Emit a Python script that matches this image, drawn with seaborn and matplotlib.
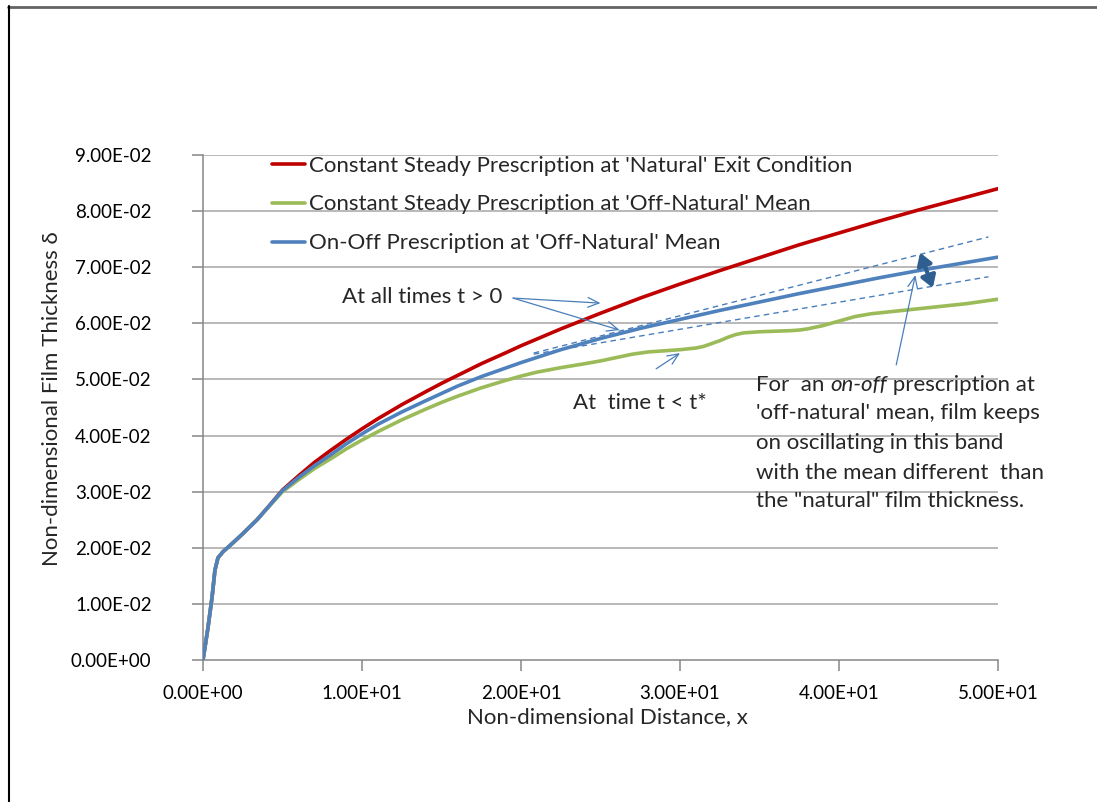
import numpy as np
import pandas as pd
import matplotlib
matplotlib.use("Agg")
import matplotlib.pyplot as plt
import seaborn as sns
from matplotlib.lines import Line2D
from matplotlib.patches import FancyArrowPatch

# ---- film thickness profiles along the plate ----
x_natural = [0, 0.3, 0.57, 0.75, 0.94, 1.26, 1.89, 2.5, 3.4, 4.2, 5, 6, 7, 8, 9, 10, 11,
             12.5, 14, 15, 16, 17.5, 19, 20, 22.5, 25, 27.5, 30, 32.5, 35, 37.5, 40,
             42.5, 45, 47.5, 50]
delta_natural = [0, 0.0055, 0.0112, 0.0160, 0.0182, 0.0193, 0.0209, 0.0225, 0.0250,
                 0.0276, 0.0303, 0.0328, 0.0352, 0.0373, 0.0393, 0.0412, 0.0430,
                 0.0455, 0.0478, 0.0493, 0.0507, 0.0528, 0.0547, 0.0560, 0.0590,
                 0.0618, 0.0645, 0.0670, 0.0694, 0.0717, 0.0740, 0.0761, 0.0782,
                 0.0802, 0.0821, 0.0840]

x_offnat = [0, 0.3, 0.57, 0.75, 0.94, 1.26, 1.89, 2.5, 3.4, 4.2, 5, 6, 7, 8, 9, 10, 11,
            12.5, 14, 15, 16, 17.5, 19, 20, 21, 22.5, 24, 25, 26, 27, 28, 29, 30, 31,
            31.5, 32, 32.5, 33, 33.5, 34, 35, 36, 37, 37.5, 38, 38.5, 39, 39.5, 40,
            40.5, 41, 42, 43, 44, 45, 46, 47, 48, 49, 50]
delta_offnat = [0, 0.0055, 0.0112, 0.0160, 0.0182, 0.0193, 0.0209, 0.0225, 0.0250,
                0.0275, 0.0300, 0.0321, 0.0341, 0.0358, 0.0376, 0.0392, 0.0407,
                0.0428, 0.0447, 0.0459, 0.0470, 0.0485, 0.0498, 0.0506, 0.0513,
                0.0521, 0.0528, 0.0533, 0.0539, 0.0545, 0.0549, 0.0551, 0.0553,
                0.0556, 0.0559, 0.0564, 0.0569, 0.0575, 0.0580, 0.0583, 0.0585,
                0.0586, 0.0587, 0.0588, 0.0590, 0.0593, 0.0596, 0.0600, 0.0604,
                0.0608, 0.0612, 0.0617, 0.0620, 0.0623, 0.0626, 0.0629, 0.0632,
                0.0635, 0.0639, 0.0643]

x_onoff = [0, 0.3, 0.57, 0.75, 0.94, 1.26, 1.89, 2.5, 3.4, 4.2, 5, 6, 7, 8, 9, 10, 11,
           12.5, 14, 15, 16, 17.5, 19, 20, 22.5, 25, 27.5, 30, 32.5, 35, 37.5, 40,
           42.5, 45, 47.5, 50]
delta_onoff = [0, 0.0055, 0.0112, 0.0160, 0.0182, 0.0193, 0.0209, 0.0225, 0.0250,
               0.0276, 0.0302, 0.0325, 0.0346, 0.0365, 0.0385, 0.0403, 0.0420,
               0.0442, 0.0462, 0.0475, 0.0488, 0.0505, 0.0520, 0.0530, 0.0553,
               0.0573, 0.0591, 0.0607, 0.0623, 0.0638, 0.0653, 0.0667, 0.0681,
               0.0694, 0.0706, 0.0718]

labels = ["Constant Steady Prescription at 'Natural' Exit Condition",
          "Constant Steady Prescription at 'Off-Natural' Mean",
          "On-Off Prescription at 'Off-Natural' Mean"]
colors = ["#C00000", "#9BBB59", "#4F81BD"]

# oscillation band of the on-off film (upper / lower envelopes)
band_x = [20.8, 49.4]
band_upper = [0.0547, 0.0754]
band_lower = [0.0545, 0.0683]

x_ticks = [0, 10, 20, 30, 40, 50]
y_ticks = [0, 0.01, 0.02, 0.03, 0.04, 0.05, 0.06, 0.07, 0.08, 0.09]

df = pd.concat([
    pd.DataFrame({"x": x_natural, "delta": delta_natural, "series": labels[0]}),
    pd.DataFrame({"x": x_offnat, "delta": delta_offnat, "series": labels[1]}),
    pd.DataFrame({"x": x_onoff, "delta": delta_onoff, "series": labels[2]}),
], ignore_index=True)

sns.set_style("white")
plt.rcParams["font.family"] = ["Lato", "DejaVu Sans"]

W, H = 1097, 802
fig = plt.figure(figsize=(W / 100, H / 100), dpi=100)
ax = fig.add_axes([203 / W, 1 - 660 / H, 795 / W, 505 / H])

grid_c = "#A6A6A6"
axis_c = "#868686"
ann_c = "#4A7EBB"
FS = 16

for yv in y_ticks[1:]:
    ax.axhline(yv, color=grid_c, lw=1.1, zorder=0)

sns.lineplot(data=df, x="x", y="delta", hue="series", hue_order=labels,
             palette=colors, estimator=None, sort=False, lw=2.6, ax=ax,
             legend=False, zorder=3)

# band envelopes
ax.plot(band_x, band_upper, color=ann_c, lw=1.0, ls=(0, (4, 3)), zorder=2)
ax.plot(band_x, band_lower, color=ann_c, lw=1.0, ls=(0, (4, 3)), zorder=2)

ax.set_xlim(0, 50)
ax.set_ylim(0, 0.09)
ax.set_xticks(x_ticks)
ax.set_yticks(y_ticks)
ax.set_xticklabels([f"{v:.2E}" for v in x_ticks])
ax.set_yticklabels([f"{v:.2E}" for v in y_ticks])
ax.tick_params(axis="both", labelsize=13.5, colors="black", length=8, width=1.1,
               direction="out")
ax.tick_params(axis="x", pad=10, color=axis_c)
ax.tick_params(axis="y", pad=29, color=axis_c)
ax.tick_params(left=True, bottom=True)

for s in ["top", "right"]:
    ax.spines[s].set_visible(False)
for s in ["left", "bottom"]:
    ax.spines[s].set_color(axis_c)
    ax.spines[s].set_linewidth(1.1)

ax.set_xlabel("Non-dimensional Distance, x", fontsize=FS)
ax.set_ylabel("Non-dimensional Film Thickness δ", fontsize=FS)
ax.xaxis.set_label_coords(0.509, -0.113)
ax.xaxis.label.set_va("center")
ax.yaxis.set_label_coords(-0.19, 0.517)
ax.yaxis.label.set_va("center")

handles = [Line2D([], [], color=c, lw=2.6) for c in colors]
ax.legend(handles, labels, loc="upper left", bbox_to_anchor=(0.087, 0.999),
          frameon=False, fontsize=FS, handlelength=1.5, handletextpad=0.15,
          labelspacing=0.85, borderaxespad=0, borderpad=0)

# ---- annotations ----
ax.text(18.8, 0.0647, "At all times t > 0", fontsize=FS, ha="right", va="center")
arrow_kw = dict(arrowstyle="->,head_length=0.8,head_width=0.35", color=ann_c, lw=0.9,
                shrinkA=0, shrinkB=0)
ax.annotate("", xy=(25.0, 0.0636), xytext=(19.5, 0.0645), arrowprops=arrow_kw)
ax.annotate("", xy=(26.2, 0.0588), xytext=(19.5, 0.0645), arrowprops=arrow_kw)

ax.text(23.3, 0.0458, "At  time t < t*", fontsize=FS, ha="left", va="center")
ax.annotate("", xy=(30.0, 0.0547), xytext=(28.5, 0.0519), arrowprops=arrow_kw)

ax.annotate("", xy=(44.8, 0.0686), xytext=(43.6, 0.0526), arrowprops=arrow_kw)

dbl = FancyArrowPatch((45.1, 0.0726), (45.9, 0.0663),
                      arrowstyle="<|-|>,head_length=0.35,head_width=0.22",
                      color="#2F5F90", lw=3.0, mutation_scale=20, zorder=5,
                      shrinkA=0, shrinkB=0)
ax.add_patch(dbl)

# explanatory note (one text per line, "on-off" set in italics)
note_x = 34.8
line_ys = [0.0490, 0.0440, 0.0386, 0.0334, 0.0284]
t1 = ax.text(note_x, line_ys[0], "For  an ", fontsize=FS, ha="left", va="center")
t2 = ax.annotate("on-off", xy=(1, 0), xycoords=t1, fontsize=FS, style="italic",
                 ha="left", va="bottom")
ax.annotate(" prescription at", xy=(1, 0), xycoords=t2, fontsize=FS,
            ha="left", va="bottom")
for txt, yv in zip(["'off-natural' mean, film keeps",
                    "on oscillating in this band",
                    "with the mean different  than",
                    "the \"natural\" film thickness."], line_ys[1:]):
    ax.text(note_x, yv, txt, fontsize=FS, ha="left", va="center")

# chart-area border
fig.add_artist(Line2D([8 / W, 1], [1 - 6.5 / H, 1 - 6.5 / H], transform=fig.transFigure,
                      color="#646464", lw=2))
fig.add_artist(Line2D([8.5 / W, 8.5 / W], [0, 1 - 6 / H], transform=fig.transFigure,
                      color="black", lw=1.5))

fig.savefig("out.png", dpi=100)
